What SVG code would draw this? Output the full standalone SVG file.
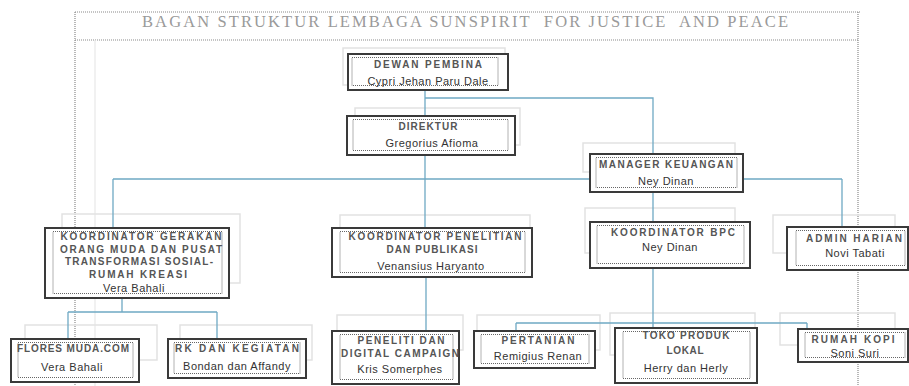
<svg xmlns="http://www.w3.org/2000/svg" width="909" height="386" viewBox="0 0 909 386">
<style>
.frame{fill:none;stroke:#8a8a8a;stroke-width:1.2;stroke-dasharray:1 1}
.faint{fill:none;stroke:#e8e8e8;stroke-width:1.2}
.ghost{fill:none;stroke:#e2e2e2;stroke-width:1.5}
.box{fill:#fff;stroke:#3a3a3a;stroke-width:2}
.inner{fill:none;stroke:#666;stroke-width:1;stroke-dasharray:1 1}
.t{font-family:"Liberation Sans",Arial,sans-serif;font-weight:bold;font-size:10px;fill:#555;text-anchor:middle;dominant-baseline:central}
.n{font-family:"Liberation Sans",Arial,sans-serif;font-size:11px;fill:#333;text-anchor:middle;dominant-baseline:central;letter-spacing:0.5px}
.title{font-family:"Liberation Serif","Times New Roman",serif;font-size:16.5px;fill:#9a9a9a;text-anchor:middle;white-space:pre}
.conn{fill:none;stroke:#6fa9c4;stroke-width:1.3}
</style>
<rect width="909" height="386" fill="#fff"/>
<g id="frame">
<path class="frame" d="M75 12H860M75 40H858M75 12V386M858 12V386"/>
<path class="faint" d="M95 40V386"/>
<text class="title" x="465" y="27" textLength="646" lengthAdjust="spacing">BAGAN STRUKTUR LEMBAGA SUNSPIRIT  FOR JUSTICE  AND PEACE</text>
</g>
<g id="ghosts">
<rect class="ghost" x="343" y="48" width="162" height="37"/>
<rect class="ghost" x="355" y="108" width="165" height="37"/>
<rect class="ghost" x="583" y="143" width="152" height="29"/>
<rect class="ghost" x="62" y="214" width="178" height="69"/>
<rect class="ghost" x="340" y="215" width="190" height="35"/>
<rect class="ghost" x="585" y="208" width="150" height="45"/>
<rect class="ghost" x="773" y="215" width="122" height="38"/>
<rect class="ghost" x="25" y="325" width="132" height="35"/>
<rect class="ghost" x="180" y="325" width="132" height="35"/>
<rect class="ghost" x="337" y="315" width="126" height="35"/>
<rect class="ghost" x="477" y="315" width="123" height="35"/>
<rect class="ghost" x="610" y="313" width="145" height="42"/>
<rect class="ghost" x="780" y="313" width="115" height="32"/>
</g>
<g id="connectors">
<path class="conn" d="M425 90V228M425 98H653V154M113 179H842M113 179V228M842 179V227M653 192V222M426 277V331M653 268V328M516 323H807M516 323V331M807 323V329M122 298V312M68 312H217M68 312V339M217 312V339"/>
</g>
<g id="dewan-pembina">
<rect class="box" x="348" y="54" width="160" height="36"/>
<rect class="inner" x="352" y="57.5" width="146" height="28"/>
<text class="t" x="428" y="64" textLength="108" lengthAdjust="spacing">DEWAN PEMBINA</text>
<text class="n" x="428" y="80.5">Cypri Jehan Paru Dale</text>
</g>
<g id="direktur">
<rect class="box" x="347" y="116" width="168" height="39"/>
<rect class="inner" x="353" y="119.5" width="155" height="31"/>
<text class="t" x="428" y="126" textLength="59" lengthAdjust="spacing">DIREKTUR</text>
<text class="n" x="432" y="142.5">Gregorius Afioma</text>
</g>
<g id="manager-keuangan">
<rect class="box" x="590" y="154" width="153" height="38"/>
<rect class="inner" x="596" y="157.5" width="141" height="30"/>
<text class="t" x="666" y="164" textLength="134" lengthAdjust="spacing">MANAGER KEUANGAN</text>
<text class="n" x="666" y="180.5">Ney Dinan</text>
</g>
<g id="koordinator-gerakan">
<rect class="box" x="45" y="228" width="184" height="70"/>
<rect class="inner" x="53" y="231.5" width="169" height="62"/>
<text class="t" x="141" y="236" textLength="161" lengthAdjust="spacing">KOORDINATOR GERAKAN</text>
<text class="t" x="141" y="249" textLength="162" lengthAdjust="spacing">ORANG MUDA DAN PUSAT</text>
<text class="t" x="139" y="261.5" textLength="148" lengthAdjust="spacing">TRANSFORMASI SOSIAL-</text>
<text class="t" x="138" y="274" textLength="98" lengthAdjust="spacing">RUMAH KREASI</text>
<text class="n" x="134" y="287.5">Vera Bahali</text>
</g>
<g id="koordinator-penelitian">
<rect class="box" x="332" y="228" width="200" height="49"/>
<rect class="inner" x="340" y="231.5" width="185" height="41"/>
<text class="t" x="435" y="236" textLength="173" lengthAdjust="spacing">KOORDINATOR PENELITIAN</text>
<text class="t" x="432" y="249" textLength="91" lengthAdjust="spacing">DAN PUBLIKASI</text>
<text class="n" x="431" y="265.5">Venansius Haryanto</text>
</g>
<g id="koordinator-bpc">
<rect class="box" x="590" y="222" width="160" height="46"/>
<rect class="inner" x="597" y="225.5" width="147" height="38"/>
<text class="t" x="673" y="232" textLength="124" lengthAdjust="spacing">KOORDINATOR BPC</text>
<text class="n" x="670" y="247">Ney Dinan</text>
</g>
<g id="admin-harian">
<rect class="box" x="787" y="227" width="121" height="43"/>
<rect class="inner" x="796" y="230.5" width="109" height="35"/>
<text class="t" x="854" y="238" textLength="96" lengthAdjust="spacing">ADMIN HARIAN</text>
<text class="n" x="855" y="253">Novi Tabati</text>
</g>
<g id="flores-muda">
<rect class="box" x="11" y="339" width="128" height="43"/>
<rect class="inner" x="18" y="342.5" width="115" height="35"/>
<text class="t" x="73" y="348" textLength="112" lengthAdjust="spacing">FLORES MUDA.COM</text>
<text class="n" x="72" y="367">Vera Bahali</text>
</g>
<g id="rk-kegiatan">
<rect class="box" x="168" y="339" width="138" height="39"/>
<rect class="inner" x="174" y="342.5" width="126" height="31"/>
<text class="t" x="237" y="348" textLength="124" lengthAdjust="spacing">RK DAN KEGIATAN</text>
<text class="n" x="237" y="366">Bondan dan Affandy</text>
</g>
<g id="peneliti-digital">
<rect class="box" x="332" y="331" width="127" height="53"/>
<rect class="inner" x="340" y="334.5" width="113" height="45"/>
<text class="t" x="401" y="340" textLength="87" lengthAdjust="spacing">PENELITI DAN</text>
<text class="t" x="400" y="353" textLength="118" lengthAdjust="spacing">DIGITAL CAMPAIGN</text>
<text class="n" x="400" y="369">Kris Somerphes</text>
</g>
<g id="pertanian">
<rect class="box" x="474" y="331" width="121" height="37"/>
<rect class="inner" x="481" y="334.5" width="108" height="29"/>
<text class="t" x="538" y="340" textLength="73" lengthAdjust="spacing">PERTANIAN</text>
<text class="n" x="538" y="356">Remigius Renan</text>
</g>
<g id="toko-produk">
<rect class="box" x="615" y="328" width="142" height="55"/>
<rect class="inner" x="623" y="331.5" width="127" height="47"/>
<text class="t" x="686" y="335" textLength="87" lengthAdjust="spacing">TOKO PRODUK</text>
<text class="t" x="685" y="350" textLength="37" lengthAdjust="spacing">LOKAL</text>
<text class="n" x="686" y="368">Herry dan Herly</text>
</g>
<g id="rumah-kopi">
<rect class="box" x="798" y="329" width="110" height="33"/>
<rect class="inner" x="805" y="332.5" width="100" height="25"/>
<text class="t" x="853" y="339" textLength="83" lengthAdjust="spacing">RUMAH KOPI</text>
<text class="n" x="855" y="353">Soni Suri</text>
</g>
</svg>
